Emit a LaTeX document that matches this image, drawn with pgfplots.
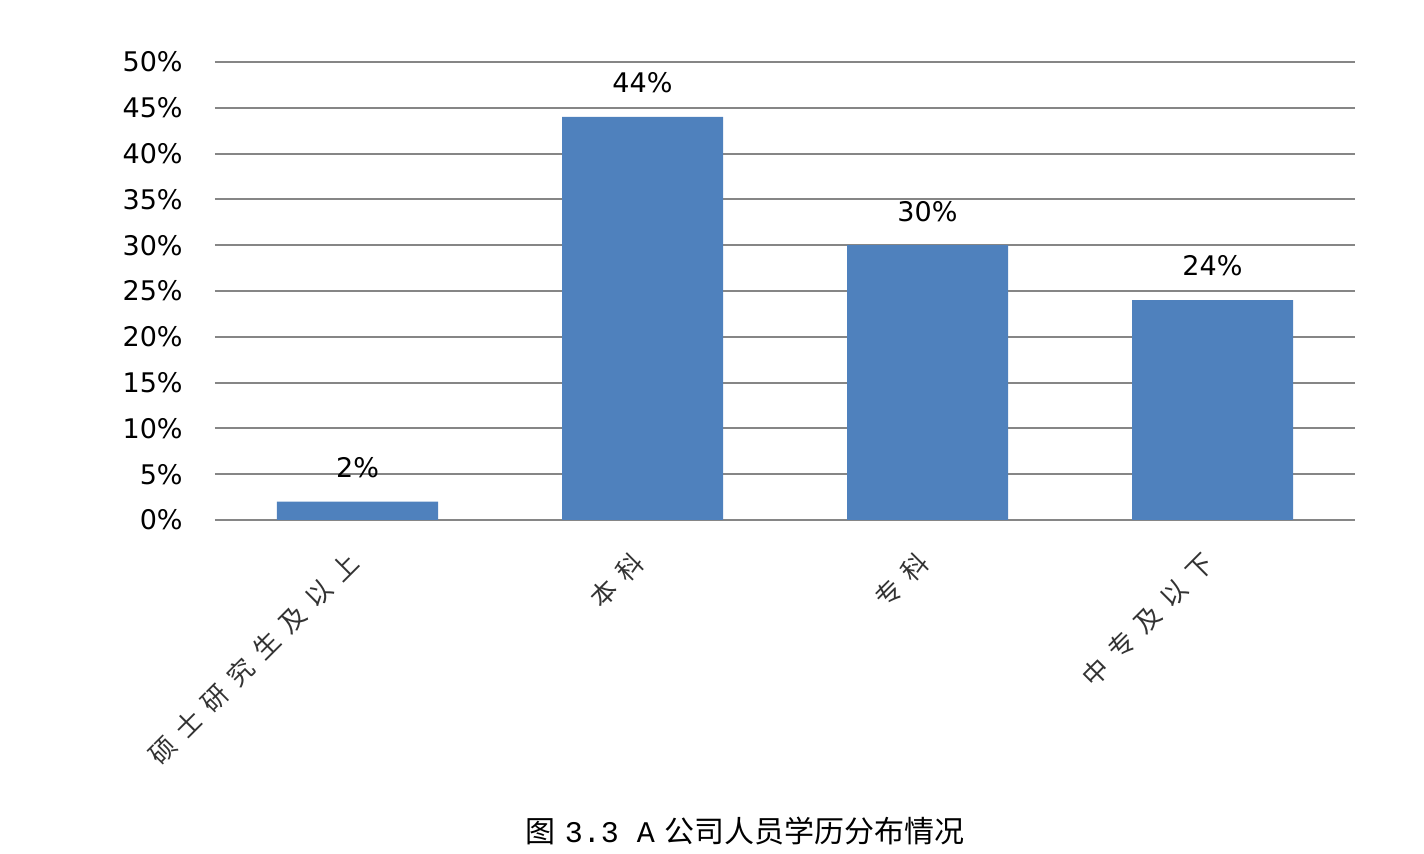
\documentclass[border=0pt]{standalone}
\usepackage{pgfplots}
\pgfplotsset{compat=1.18}
\usepackage{fontspec}
\setmainfont{DejaVu Sans}
\newfontfamily\cjk{Noto Sans CJK SC}
\newfontfamily\cjklab[LetterSpace=42]{Noto Sans CJK SC}
\newfontfamily\capmono{Liberation Mono}
\definecolor{barblue}{HTML}{4F81BD}
\definecolor{gridgray}{HTML}{868686}
\begin{document}
\begin{tikzpicture}
\useasboundingbox (-107.5pt,-167pt) rectangle (604.5pt,260pt);
\begin{axis}[at={(0,0)}, anchor=south west, scale only axis,
  width=570pt, height=229pt,
  ybar, bar width=80.5pt,
  xmin=-0.5, xmax=3.5, ymin=0, ymax=50,
  ytick={0,5,...,50}, xtick={0,1,2,3},
  xticklabels={硕士研究生及以上,本科,专科,中专及以下},
  ymajorgrids, grid style={gridgray, line width=1pt},
  axis line style={draw=none}, major tick length=0pt,
  /pgf/number format/assume math mode=true,
  yticklabel={\pgfmathprintnumber{\tick}\%},
  yticklabel style={font=\fontsize{13.5}{16}\selectfont, anchor=east, inner sep=0pt, xshift=-16pt},
  xticklabel style={xshift=-1.5pt, yshift=-19pt, rotate=45,
    font=\cjklab\fontsize{13}{15}\selectfont, text=black!80, anchor=east, inner sep=0pt},
  nodes near coords={\pgfmathprintnumber{\pgfplotspointmeta}\%},
  every node near coord/.append style={font=\fontsize{13.5}{16}\selectfont, text=black, anchor=center, yshift=17pt},
]
\addplot[fill=barblue, draw=none] coordinates {(0,2) (1,44) (2,30) (3,24)};
\end{axis}
\node[font=\cjk\fontsize{15}{18}\selectfont] at (265pt,-155.5pt) {图{\capmono\hspace{0.3em}3.3 A\hspace{0.3em}}公司人员学历分布情况};
\end{tikzpicture}
\end{document}
